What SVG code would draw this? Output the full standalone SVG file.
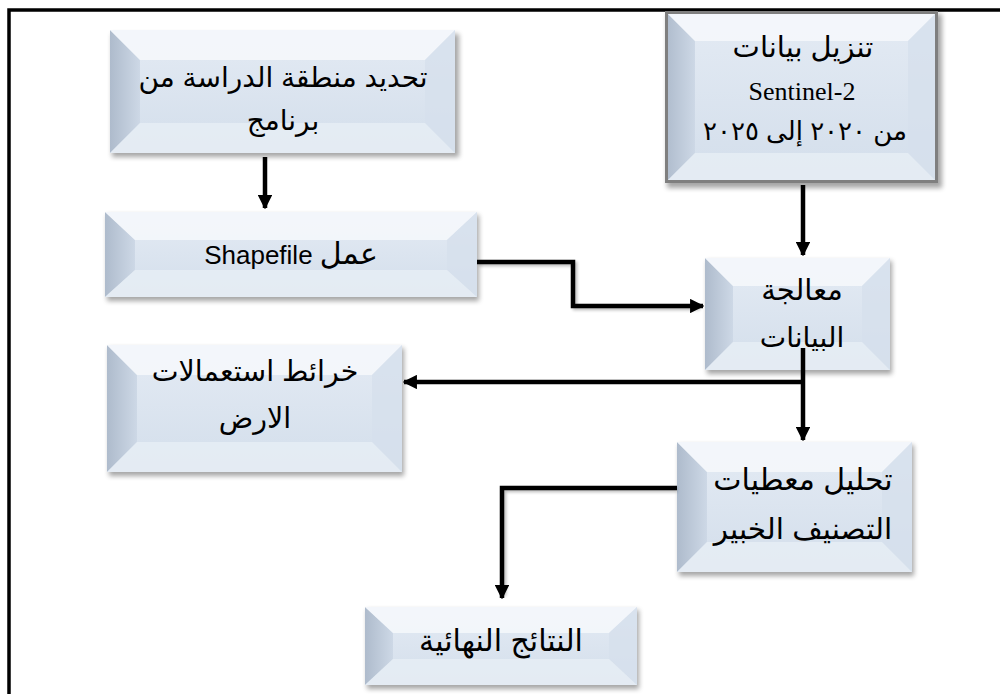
<svg xmlns="http://www.w3.org/2000/svg" width="1000" height="694" viewBox="0 0 1000 694">
<style>
.base{fill:url(#g)}
.bl{fill:url(#gl)}
.bt{fill:#f6f8fb;opacity:0.85}
.br{fill:#d6e0ec;opacity:0.8}
.bb{fill:#e6edf5;opacity:0.85}
.sh{fill:#000;opacity:0.35;filter:url(#blur)}
.ar{font-family:"Liberation Sans","DejaVu Sans",Arial,sans-serif;fill:#000;text-anchor:middle}
.tr{font-family:"Liberation Serif","DejaVu Serif",serif;fill:#000;text-anchor:middle}
.c{fill:none;stroke:#000;stroke-width:4.5;stroke-linejoin:miter}
.cs{fill:none;stroke:#000;stroke-width:4.5;opacity:0.25;filter:url(#blur2)}
</style>
<defs>
<linearGradient id="g" x1="0" y1="0" x2="0" y2="1">
<stop offset="0" stop-color="#e4ebf4"/>
<stop offset="1" stop-color="#d3deeb"/>
</linearGradient>
<linearGradient id="gl" x1="0" y1="0" x2="1" y2="0">
<stop offset="0" stop-color="#aebbcc"/>
<stop offset="1" stop-color="#cdd8e6"/>
</linearGradient>
<filter id="blur" x="-10%" y="-10%" width="120%" height="130%"><feGaussianBlur stdDeviation="2.5"/></filter>
<filter id="blur2" x="-10%" y="-10%" width="120%" height="130%"><feGaussianBlur stdDeviation="1.5"/></filter>
<marker id="ah" viewBox="0 0 10 10" refX="9" refY="5" markerWidth="3.2" markerHeight="3.2" orient="auto" markerUnits="strokeWidth">
<path d="M0,0 L10,5 L0,10 z" fill="#000"/>
</marker>
</defs>
<rect width="1000" height="694" fill="#fff"/>
<path d="M9,694 V10 H1000" fill="none" stroke="#000" stroke-width="3.5"/>

<g id="n1">
<rect class="sh" x="112" y="34" width="347" height="123"/>
<rect class="base" x="110" y="30" width="345" height="123"/>
<polygon class="bl" points="110,30 140,60 140,123 110,153"/>
<polygon class="bt" points="110,30 455,30 425,60 140,60"/>
<polygon class="br" points="455,30 455,153 425,123 425,60"/>
<polygon class="bb" points="110,153 140,123 425,123 455,153"/>
<text class="ar" x="283" y="87" style="font-size:28px" direction="rtl">تحديد منطقة الدراسة من</text>
<text class="ar" x="283" y="130" style="font-size:28px" direction="rtl">برنامج</text>
</g>

<g id="n2">
<rect class="sh" x="667" y="14" width="275" height="174"/>
<rect class="base" x="665" y="11" width="273" height="172"/>
<polygon class="bl" points="665,11 695,41 695,153 665,183"/>
<polygon class="bt" points="665,11 938,11 908,41 695,41"/>
<polygon class="br" points="938,11 938,183 908,153 908,41"/>
<polygon class="bb" points="665,183 695,153 908,153 938,183"/>
<rect x="666.5" y="12.5" width="270" height="169" fill="none" stroke="#7f7f7f" stroke-width="3"/>
<text class="ar" x="803" y="57" style="font-size:29px" direction="rtl">تنزيل بيانات</text>
<text class="tr" x="802" y="100" style="font-size:26px">Sentinel-2</text>
<text class="ar" x="805" y="140" style="font-size:26px" direction="rtl">من ٢٠٢٠ إلى ٢٠٢٥</text>
</g>

<g id="n3">
<rect class="sh" x="107" y="215" width="372" height="86"/>
<rect class="base" x="105" y="212" width="372" height="85"/>
<polygon class="bl" points="105,212 135,240 135,270 105,297"/>
<polygon class="bt" points="105,212 477,212 447,240 135,240"/>
<polygon class="br" points="477,212 477,297 447,270 447,240"/>
<polygon class="bb" points="105,297 135,270 447,270 477,297"/>
<text class="ar" x="291" y="264" direction="rtl"><tspan style="font-size:30px">عمل</tspan><tspan style="font-size:26px"> Shapefile</tspan></text>
</g>

<g id="n4">
<rect class="sh" x="707" y="261" width="185" height="113"/>
<rect class="base" x="705" y="258" width="185" height="112"/>
<polygon class="bl" points="705,258 733,286 733,342 705,370"/>
<polygon class="bt" points="705,258 890,258 862,286 733,286"/>
<polygon class="br" points="890,258 890,370 862,342 862,286"/>
<polygon class="bb" points="705,370 733,342 862,342 890,370"/>
<text class="ar" x="802" y="300" style="font-size:29px" direction="rtl">معالجة</text>
<text class="ar" x="802" y="347" style="font-size:28px" direction="rtl">البيانات</text>
</g>

<g id="n5">
<rect class="sh" x="109" y="348" width="295" height="128"/>
<rect class="base" x="107" y="345" width="295" height="127"/>
<polygon class="bl" points="107,345 137,375 137,442 107,472"/>
<polygon class="bt" points="107,345 402,345 372,375 137,375"/>
<polygon class="br" points="402,345 402,472 372,442 372,375"/>
<polygon class="bb" points="107,472 137,442 372,442 402,472"/>
<text class="ar" x="255" y="381" style="font-size:28.5px" direction="rtl">خرائط استعمالات</text>
<text class="ar" x="255" y="428" style="font-size:28.5px" direction="rtl">الارض</text>
</g>

<g id="n6">
<rect class="sh" x="679" y="445" width="235" height="131"/>
<rect class="base" x="677" y="442" width="235" height="130"/>
<polygon class="bl" points="677,442 707,472 707,542 677,572"/>
<polygon class="bt" points="677,442 912,442 882,472 707,472"/>
<polygon class="br" points="912,442 912,572 882,542 882,472"/>
<polygon class="bb" points="677,572 707,542 882,542 912,572"/>
<text class="ar" x="803" y="490" style="font-size:30px" direction="rtl">تحليل معطيات</text>
<text class="ar" x="803" y="539" style="font-size:29.5px" direction="rtl">التصنيف الخبير</text>
</g>

<g id="n7">
<rect class="sh" x="367" y="610" width="272" height="79"/>
<rect class="base" x="365" y="607" width="272" height="78"/>
<polygon class="bl" points="365,607 393,633 393,659 365,685"/>
<polygon class="bt" points="365,607 637,607 609,633 393,633"/>
<polygon class="br" points="637,607 637,685 609,659 609,633"/>
<polygon class="bb" points="365,685 393,659 609,659 637,685"/>
<text class="ar" x="501" y="651" style="font-size:30px" direction="rtl">النتائج النهائية</text>
</g>

<g id="connectors">
<path class="cs" d="M267,160 V206"/>
<path class="c" d="M265,157 V208" marker-end="url(#ah)"/>
<path class="cs" d="M805,188 V252"/>
<path class="c" d="M803,185 V255" marker-end="url(#ah)"/>
<path class="cs" d="M479,264 H575 V308 H700"/>
<path class="c" d="M477,262 H573 V306 H703" marker-end="url(#ah)"/>
<path class="cs" d="M805,384 H408"/>
<path class="c" d="M803,382 H404" marker-end="url(#ah)"/>
<path class="cs" d="M805,350 V438"/>
<path class="c" d="M803,348 V440" marker-end="url(#ah)"/>
<path class="cs" d="M677,490 H504 V596"/>
<path class="c" d="M677,488 H502 V598" marker-end="url(#ah)"/>
</g>
</svg>
